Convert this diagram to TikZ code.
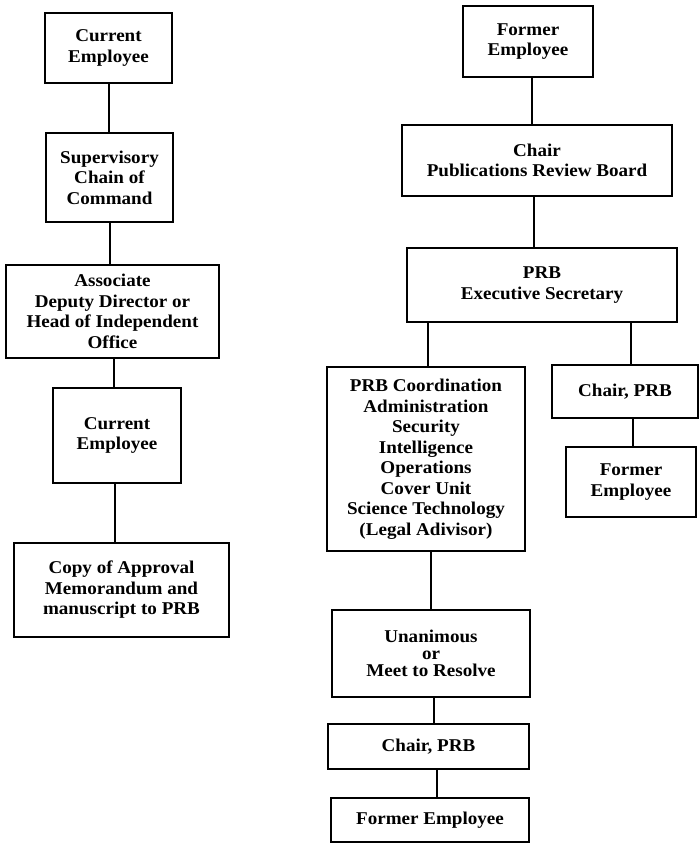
\documentclass[tikz,border=0pt]{standalone}
\usepackage{fontspec}
\setmainfont[FakeStretch=1.06]{Liberation Serif}
\begin{document}
\begin{tikzpicture}[x=1pt,y=-1pt,
  box/.style={draw,line width=2pt,inner sep=0pt,align=center,
    font=\fontsize{18}{20.5}\selectfont\bfseries},
  conn/.style={line width=2pt}]
\useasboundingbox (0,0) rectangle (700,845);
% left column
\node[box,minimum width=127,minimum height=70] (ce1) at (108.5,48) {Current\\Employee};
\node[box,minimum width=127,minimum height=89] (sup) at (109.5,177.5) {Supervisory\\Chain of\\Command};
\node[box,minimum width=213,minimum height=93] (assoc) at (112.5,311.5) {Associate\\Deputy Director or\\Head of Independent\\Office};
\node[box,minimum width=128,minimum height=95] (ce2) at (117,435.5) {Current\\Employee};
\node[box,minimum width=215,minimum height=94] (copy) at (121.5,590) {Copy of Approval\\Memorandum and\\manuscript to PRB};
% right column
\node[box,minimum width=130,minimum height=71] (fe1) at (528,41.5) {Former\\Employee};
\node[box,minimum width=270,minimum height=71] (chair1) at (537,160.5) {Chair\\Publications Review Board};
\node[box,minimum width=270,minimum height=74] (exec) at (542,285) {PRB\\Executive Secretary};
\node[box,minimum width=198,minimum height=184] (coord) at (426,459) {PRB Coordination\\Administration\\Security\\Intelligence\\Operations\\Cover Unit\\Science Technology\\(Legal Adivisor)};
\node[box,minimum width=146,minimum height=53] (chairR) at (625,391.5) {Chair, PRB};
\node[box,minimum width=130,minimum height=70] (feR) at (631,482) {Former\\Employee};
\node[box,minimum width=198,minimum height=87,font=\fontsize{18}{17}\selectfont\bfseries] (unan) at (431,653.5) {Unanimous\\or\\Meet to Resolve};
\node[box,minimum width=201,minimum height=45] (chair2) at (428.5,746.5) {Chair, PRB};
\node[box,minimum width=198,minimum height=44] (fe2) at (430,820) {Former Employee};
% connectors
\draw[conn] (ce1.south) -- (ce1.south |- sup.north);
\draw[conn] (sup.south) -- (sup.south |- assoc.north);
\draw[conn] ([xshift=1pt]assoc.south) -- ([xshift=1pt]assoc.south |- ce2.north);
\draw[conn] ([xshift=-2pt]ce2.south) -- ([xshift=-2pt]ce2.south |- copy.north);
\draw[conn] ([xshift=4pt]fe1.south) -- ([xshift=4pt]fe1.south |- chair1.north);
\draw[conn] ([xshift=-3pt]chair1.south) -- ([xshift=-3pt]chair1.south |- exec.north);
\draw[conn] ([xshift=2pt]coord.north |- exec.south) -- ([xshift=2pt]coord.north);
\draw[conn] ([xshift=6pt]chairR.north |- exec.south) -- ([xshift=6pt]chairR.north);
\draw[conn] ([xshift=2pt]feR.north |- chairR.south) -- ([xshift=2pt]feR.north);
\draw[conn] (unan.north |- coord.south) -- (unan.north);
\draw[conn] ([xshift=3pt]unan.south) -- ([xshift=3pt]unan.south |- chair2.north);
\draw[conn] ([xshift=8pt]chair2.south) -- ([xshift=8pt]chair2.south |- fe2.north);
\end{tikzpicture}
\end{document}
